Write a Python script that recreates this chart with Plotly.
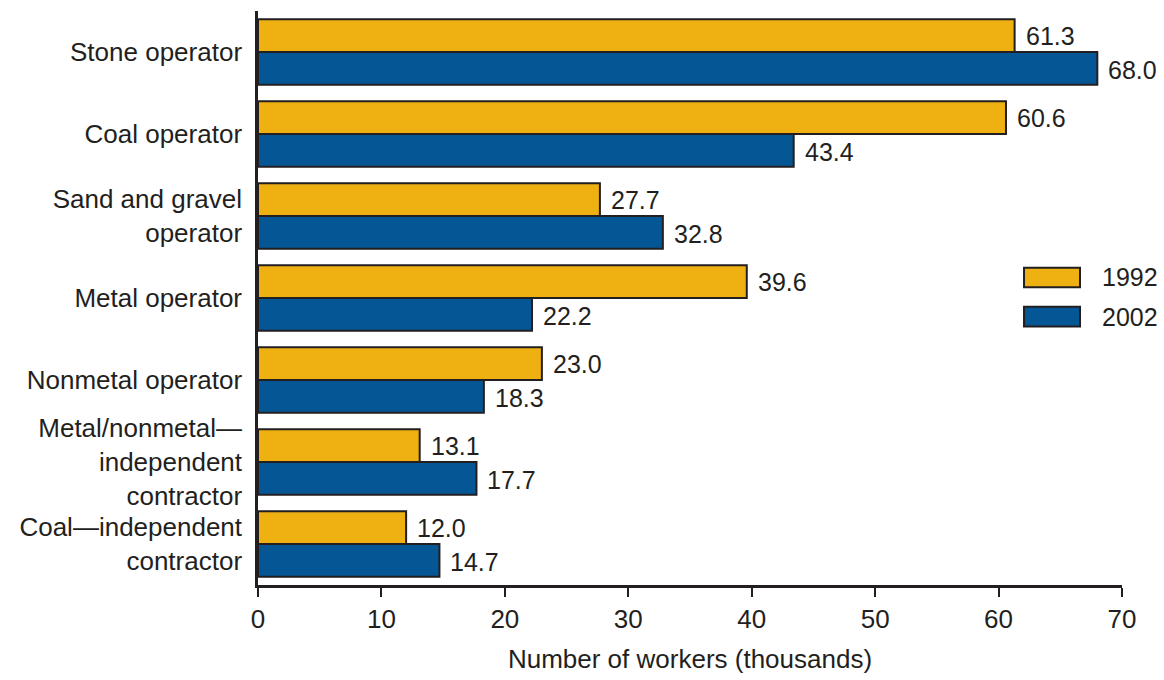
import plotly.graph_objects as go

categories = [
    "Stone operator",
    "Coal operator",
    "Sand and gravel<br>operator",
    "Metal operator",
    "Nonmetal operator",
    "Metal/nonmetal—<br>independent<br>contractor",
    "Coal—independent<br>contractor",
]
workers_1992 = [61.3, 60.6, 27.7, 39.6, 23.0, 13.1, 12.0]
workers_2002 = [68.0, 43.4, 32.8, 22.2, 18.3, 17.7, 14.7]
series_names = ["1992", "2002"]
x_ticks = [0, 10, 20, 30, 40, 50, 60, 70]

YELLOW = "#EFB112"
BLUE = "#045694"
DARK = "#231F20"
FONT = "Liberation Sans, Arial, Helvetica, sans-serif"
FS = 26
FS_VAL = 25

fig = go.Figure()
for name, vals, col in [(series_names[0], workers_1992, YELLOW), (series_names[1], workers_2002, BLUE)]:
    fig.add_trace(go.Bar(
        y=categories, x=vals, name=name, orientation="h",
        marker=dict(color=col, line=dict(color=DARK, width=2)),
        showlegend=False,
    ))

# value labels
annotations = []
for vals, shift in [(workers_1992, 16.7), (workers_2002, -16.7)]:
    for cat, v in zip(categories, vals):
        annotations.append(dict(
            x=v, y=cat, xref="x", yref="y", text=f"{v:.1f}", showarrow=False,
            xanchor="left", yanchor="middle", xshift=9, yshift=shift - 1,
            font=dict(family=FONT, size=FS_VAL, color=DARK),
        ))

# custom legend
shapes = []
legend_items = [(series_names[0], YELLOW, 0.5529, 0.5188), (series_names[1], BLUE, 0.4846, 0.4505)]
for name, col, y1, y0 in legend_items:
    shapes.append(dict(type="rect", xref="paper", yref="paper", x0=0.8866, x1=0.9514,
                       y0=y0, y1=y1, fillcolor=col, line=dict(color=DARK, width=2)))
    annotations.append(dict(x=0.974, y=(y0 + y1) / 2, xref="paper", yref="paper", text=name,
                            showarrow=False, xanchor="left", yanchor="middle",
                            font=dict(family=FONT, size=FS_VAL, color=DARK)))

fig.update_layout(
    width=1164, height=680,
    margin=dict(l=258, r=42, t=11, b=83),
    paper_bgcolor="white", plot_bgcolor="white",
    barmode="group", bargap=0.2, bargroupgap=0,
    font=dict(family=FONT, size=FS, color=DARK),
    annotations=annotations, shapes=shapes,
    xaxis=dict(
        range=[0, 70], tickvals=x_ticks, ticks="outside", ticklen=9, tickwidth=2,
        tickcolor=DARK, showline=True, linecolor=DARK, linewidth=2.5, showgrid=False,
        zeroline=False, tickfont=dict(size=FS),
        title=dict(text="Number of workers (thousands)", font=dict(size=FS), standoff=17),
    ),
    yaxis=dict(
        autorange="reversed", showline=True, linecolor=DARK, linewidth=2.5,
        ticks="", showgrid=False, zeroline=False, tickfont=dict(size=FS), ticklabelstandoff=8,
    ),
)

fig.write_html(
    "out.html",
    config={"displayModeBar": False},
    post_script="document.documentElement.style.overflow='hidden';"
                "document.body.style.margin='0';document.body.style.overflow='hidden';",
)
